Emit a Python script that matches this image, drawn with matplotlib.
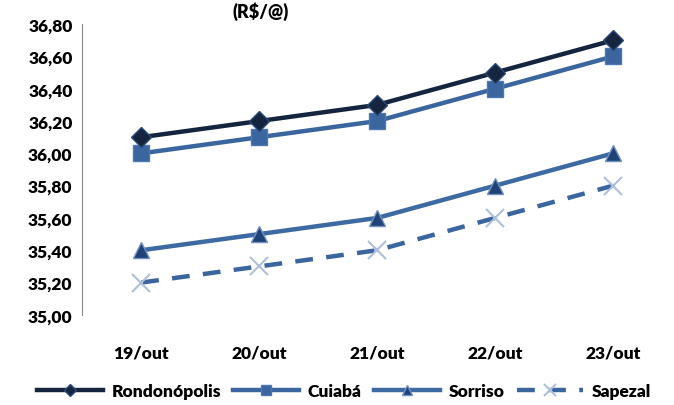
import matplotlib
matplotlib.use("Agg")
import matplotlib.pyplot as plt

# dados (R$/@)
datas = ["19/out", "20/out", "21/out", "22/out", "23/out"]
rondonopolis = [36.10, 36.20, 36.30, 36.50, 36.70]
cuiaba = [36.00, 36.10, 36.20, 36.40, 36.60]
sorriso = [35.40, 35.50, 35.60, 35.80, 36.00]
sapezal = [35.20, 35.30, 35.40, 35.60, 35.80]

plt.rcParams['font.family'] = ['Lato', 'DejaVu Sans']
plt.rcParams['font.weight'] = 'heavy'

fig = plt.figure(figsize=(6.74, 4.06), dpi=100)
ax = fig.add_axes([0.122, 0.222, 0.875, 0.716])

x = list(range(len(datas)))
ax.plot(x, rondonopolis, color='#16253f', lw=3.2, marker='D', ms=10,
        mfc='#16253f', mec='#2c4a78', mew=1, label='Rondonópolis', zorder=5)
ax.plot(x, cuiaba, color='#3a659e', lw=3.2, marker='s', ms=12,
        mfc='#3a659e', mec='#5078b0', mew=1, label='Cuiabá', zorder=4)
ax.plot(x, sorriso, color='#3d6aa3', lw=3.2, marker='^', ms=12,
        mfc='#1f4277', mec='#6f8fc0', mew=1, label='Sorriso', zorder=3)
ax.plot(x, sapezal, color='#3a659e', lw=3.2, ls=(0, (4, 3)), marker='x', ms=13,
        mec='#aebfdb', mew=1.5, label='Sapezal', zorder=2)

ax.set_xlim(-0.5, len(datas) - 0.5)
ax.set_ylim(35.0, 36.8)
ax.set_yticks([35.0 + 0.2 * i for i in range(10)])
ax.set_yticklabels([f"{35.0 + 0.2 * i:.2f}".replace('.', ',') for i in range(10)])
ax.set_xticks(x)
ax.set_xticklabels(datas)
ax.tick_params(axis='both', length=0, labelsize=12.5)
ax.tick_params(axis='x', pad=21)
ax.tick_params(axis='y', pad=7)
for s in ['top', 'right', 'bottom']:
    ax.spines[s].set_visible(False)
ax.spines['left'].set_color('#8c8c8c')

fig.text(0.387, 0.972, "(R$/@)", ha='center', va='center', fontsize=13, fontweight='heavy')

fig.legend(loc='center', bbox_to_anchor=(0.51, 0.035), ncol=4, frameon=False,
           fontsize=12.5, handlelength=3.8, columnspacing=0.7, handletextpad=0.5,
           markerscale=0.65)

fig.savefig("out.png", dpi=100)
